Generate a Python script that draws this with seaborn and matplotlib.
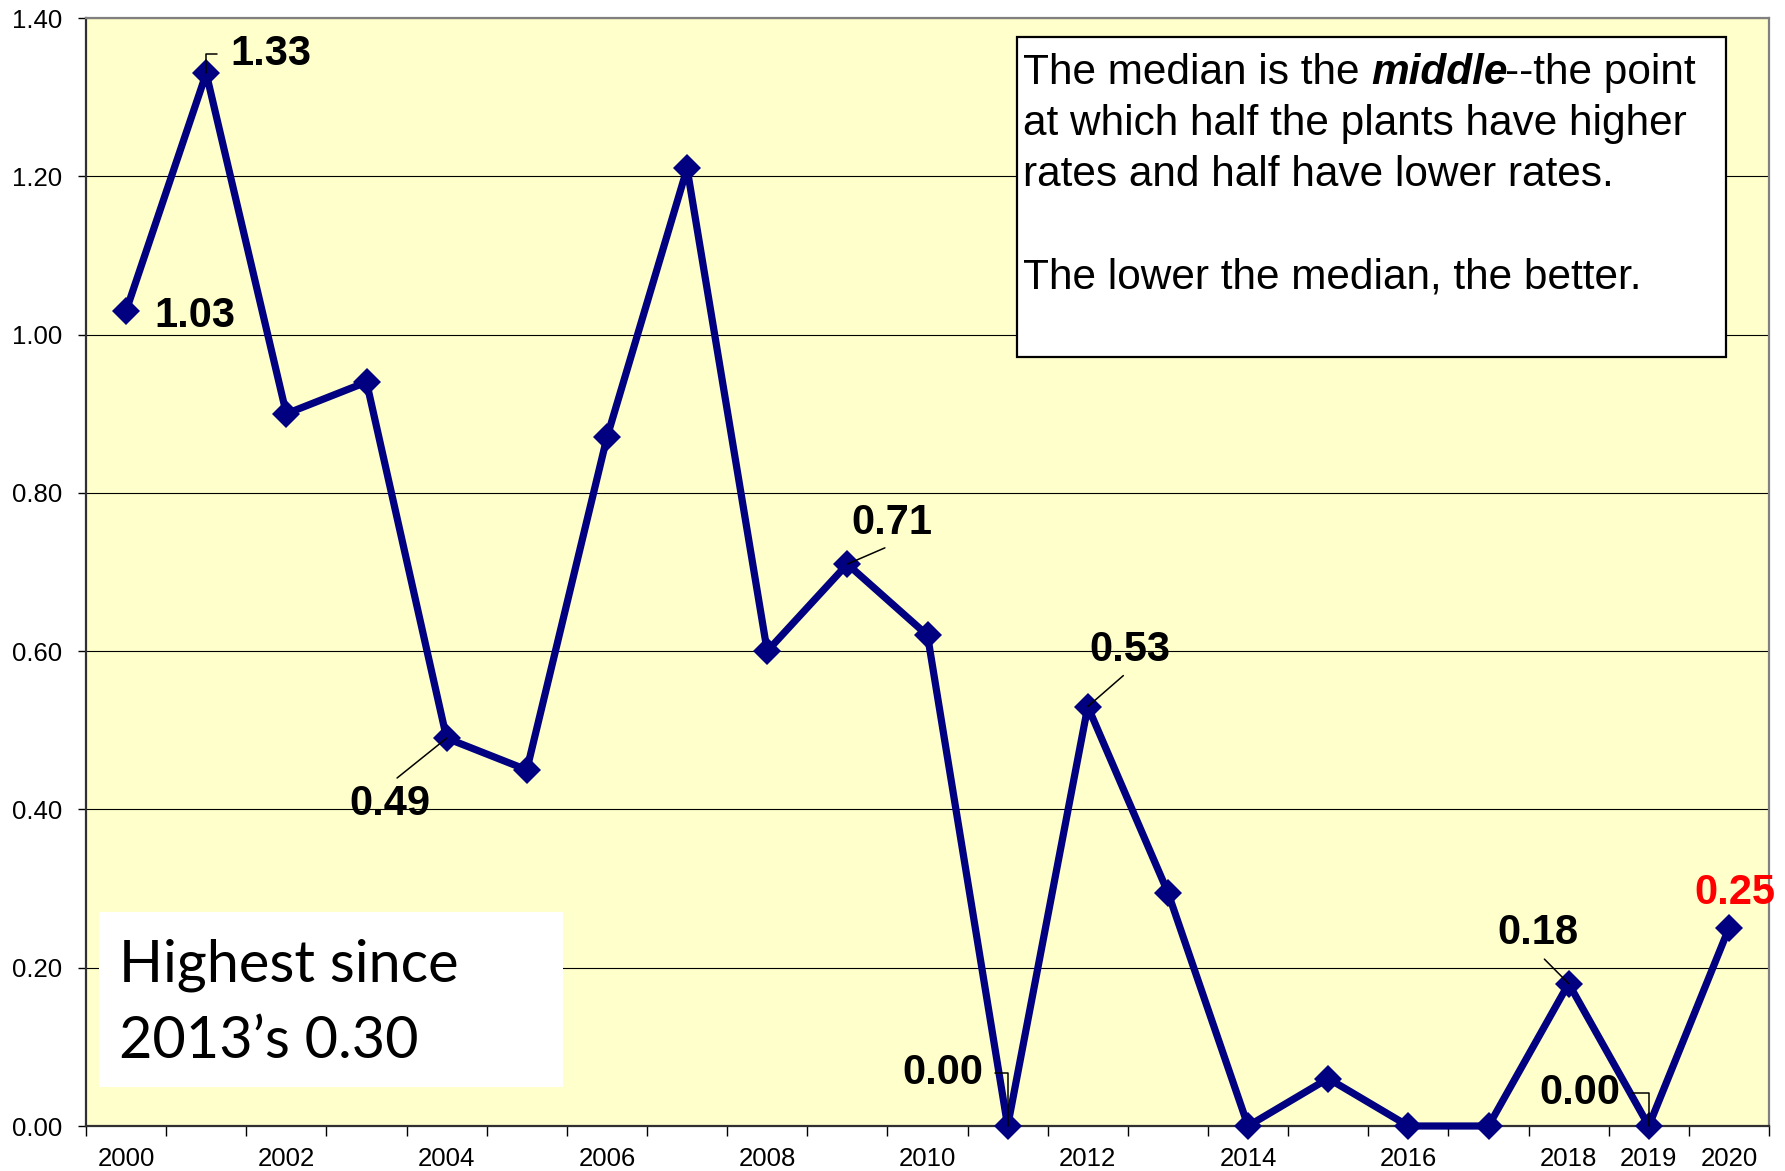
import matplotlib
matplotlib.use('Agg')
import matplotlib.pyplot as plt
from matplotlib.patches import Rectangle
from matplotlib.ticker import FixedLocator, FormatStrFormatter
import seaborn as sns
import pandas as pd
import numpy as np

# ── data ───────────────────────────────────────────────────────────────────
years = [2000, 2001, 2002, 2003, 2004, 2005, 2006, 2007, 2008, 2009, 2010,
         2011, 2012, 2013, 2014, 2015, 2016, 2017, 2018, 2019, 2020]
median_rate = [1.03, 1.33, 0.90, 0.94, 0.49, 0.45, 0.87, 1.21, 0.60, 0.71, 0.62,
               0.00, 0.53, 0.295, 0.00, 0.06, 0.00, 0.00, 0.18, 0.00, 0.25]
shown_years = [2000, 2002, 2004, 2006, 2008, 2010, 2012, 2014, 2016, 2018, 2019, 2020]
y_ticks = [0.0, 0.2, 0.4, 0.6, 0.8, 1.0, 1.2, 1.4]

df = pd.DataFrame({'pos': range(len(years)), 'year': years, 'rate': median_rate})

# ── layout ────────────────────────────────────────────────────────────────
W, H = 1785, 1171
NAVY = '#000080'

sns.set_style('white')
plt.rcParams['font.family'] = ['Liberation Sans', 'DejaVu Sans']
plt.rcParams['text.color'] = 'black'
plt.rcParams['xtick.color'] = 'black'
plt.rcParams['ytick.color'] = 'black'
plt.rcParams['xtick.labelcolor'] = 'black'
plt.rcParams['ytick.labelcolor'] = 'black'

fig = plt.figure(figsize=(W / 100, H / 100), dpi=100)
fx = lambda px: px / W
fy = lambda py: 1 - py / H
ax = fig.add_axes([fx(86), fy(1126), (1769 - 86) / W, (1126 - 18) / H])
ax.set_facecolor('#FFFFCC')

sns.lineplot(data=df, x='pos', y='rate', ax=ax, color=NAVY, linewidth=5.2,
             marker='D', markersize=14.5, markeredgewidth=0, zorder=5,
             clip_on=False)

ax.set_xlim(-0.5, len(years) - 0.5)
ax.set_ylim(0, 1.4)
ax.set_xlabel('')
ax.set_ylabel('')

ax.set_yticks(y_ticks)
ax.yaxis.set_major_formatter(FormatStrFormatter('%.2f'))
ax.yaxis.grid(True, color='black', linewidth=0.8)
ax.set_axisbelow(True)

pos_of = {y: i for i, y in enumerate(years)}
ax.set_xticks([pos_of[y] for y in shown_years])
ax.set_xticklabels([str(y) for y in shown_years])
ax.xaxis.set_minor_locator(FixedLocator(np.arange(-0.5, len(years), 1.0)))

ax.tick_params(axis='y', which='major', direction='out', length=6, width=1,
               labelsize=18.5, pad=11, left=True)
ax.tick_params(axis='x', which='major', length=0, labelsize=18.5, pad=15)
ax.tick_params(axis='x', which='minor', direction='out', length=7, width=1,
               bottom=True)

for side in ['left', 'bottom']:
    ax.spines[side].set_color('#303030')
    ax.spines[side].set_linewidth(1.6)
for side in ['top', 'right']:
    ax.spines[side].set_color('#808080')
    ax.spines[side].set_linewidth(1.6)

# ── data labels ───────────────────────────────────────────────────────────
lab_kw = dict(fontsize=30, fontweight='bold', va='center', annotation_clip=False,
              zorder=6)
line_kw = dict(arrowstyle='-', color='black', lw=1.1, shrinkB=0)
rate_of = dict(zip(years, median_rate))

def txt(y):
    return f'{rate_of[y]:.2f}'

elbow = 'angle,angleA=0,angleB=90,rad=0'

# 2000: no leader
ax.annotate(txt(2000), xy=(0.35, 1.023), ha='left', **lab_kw)
# 2001: elbow leader
ax.annotate(txt(2001), xy=(pos_of[2001], rate_of[2001]), xytext=(1.30, 1.355),
            ha='left', arrowprops=dict(connectionstyle=elbow, relpos=(0, 0.5),
                                       shrinkA=7, **line_kw), **lab_kw)
# 2004
ax.annotate(txt(2004), xy=(pos_of[2004], rate_of[2004]), xytext=(3.29, 0.407),
            ha='center', arrowprops=dict(relpos=(0.5, 1), shrinkA=3, **line_kw), **lab_kw)
# 2009
ax.annotate(txt(2009), xy=(pos_of[2009], rate_of[2009]), xytext=(9.56, 0.762),
            ha='center', arrowprops=dict(relpos=(0.55, 0), shrinkA=3, **line_kw), **lab_kw)
# 2011: elbow
ax.annotate(txt(2011), xy=(pos_of[2011], rate_of[2011]), xytext=(10.70, 0.067),
            ha='right', arrowprops=dict(connectionstyle=elbow, relpos=(1, 0.5),
                                        shrinkA=6, **line_kw), **lab_kw)
# 2012
ax.annotate(txt(2012), xy=(pos_of[2012], rate_of[2012]), xytext=(12.53, 0.602),
            ha='center', arrowprops=dict(relpos=(0.5, 0), shrinkA=3, **line_kw), **lab_kw)
# 2018
ax.annotate(txt(2018), xy=(pos_of[2018], rate_of[2018]), xytext=(17.62, 0.244),
            ha='center', arrowprops=dict(relpos=(0.5, 0), shrinkA=3, **line_kw), **lab_kw)
# 2019: elbow
ax.annotate(txt(2019), xy=(pos_of[2019], rate_of[2019]), xytext=(18.64, 0.042),
            ha='right', arrowprops=dict(connectionstyle=elbow, relpos=(1, 0.5),
                                        shrinkA=6, **line_kw), **lab_kw)
# 2020: red, no leader
ax.annotate(txt(2020), xy=(20.07, 0.295), ha='center', color='#FF0000', **lab_kw)

# ── text boxes ────────────────────────────────────────────────────────────
fig.patches.append(Rectangle((fx(1017), fy(357)), (1726 - 1017) / W, (357 - 37) / H,
                             transform=fig.transFigure, facecolor='white',
                             edgecolor='black', linewidth=1.6, zorder=3))
fs_box = 30.5
renderer = fig.canvas.get_renderer()
space_px = 0.278 * fs_box * 100 / 72
x0 = 1023
t1 = fig.text(fx(x0), fy(84), 'The median is the', fontsize=fs_box, va='baseline', zorder=4)
w1 = t1.get_window_extent(renderer).width + space_px
t2 = fig.text(fx(x0 + w1), fy(84), 'middle', fontsize=fs_box, fontweight='bold',
              fontstyle='italic', va='baseline', zorder=4)
w2 = t2.get_window_extent(renderer).width
fig.text(fx(x0 + w1 + w2 - 3), fy(84), '--the point', fontsize=fs_box, va='baseline', zorder=4)
fig.text(fx(x0), fy(135), 'at which half the plants have higher', fontsize=fs_box,
         va='baseline', zorder=4)
fig.text(fx(x0), fy(186), 'rates and half have lower rates.', fontsize=fs_box,
         va='baseline', zorder=4)
fig.text(fx(x0), fy(288), 'The lower the median, the better.', fontsize=fs_box,
         va='baseline', zorder=4)

fig.patches.append(Rectangle((fx(99), fy(1087)), (563 - 99) / W, (1087 - 912) / H,
                             transform=fig.transFigure, facecolor='white',
                             edgecolor='none', zorder=3))
fig.text(fx(119), fy(982), 'Highest since', fontsize=41.5, family=['Lato', 'DejaVu Sans'],
         va='baseline', zorder=4)
fig.text(fx(119), fy(1058), '2013\u2019s 0.30', fontsize=41.5, family=['Lato', 'DejaVu Sans'],
         va='baseline', zorder=4)

fig.savefig('out.png', dpi=100)
